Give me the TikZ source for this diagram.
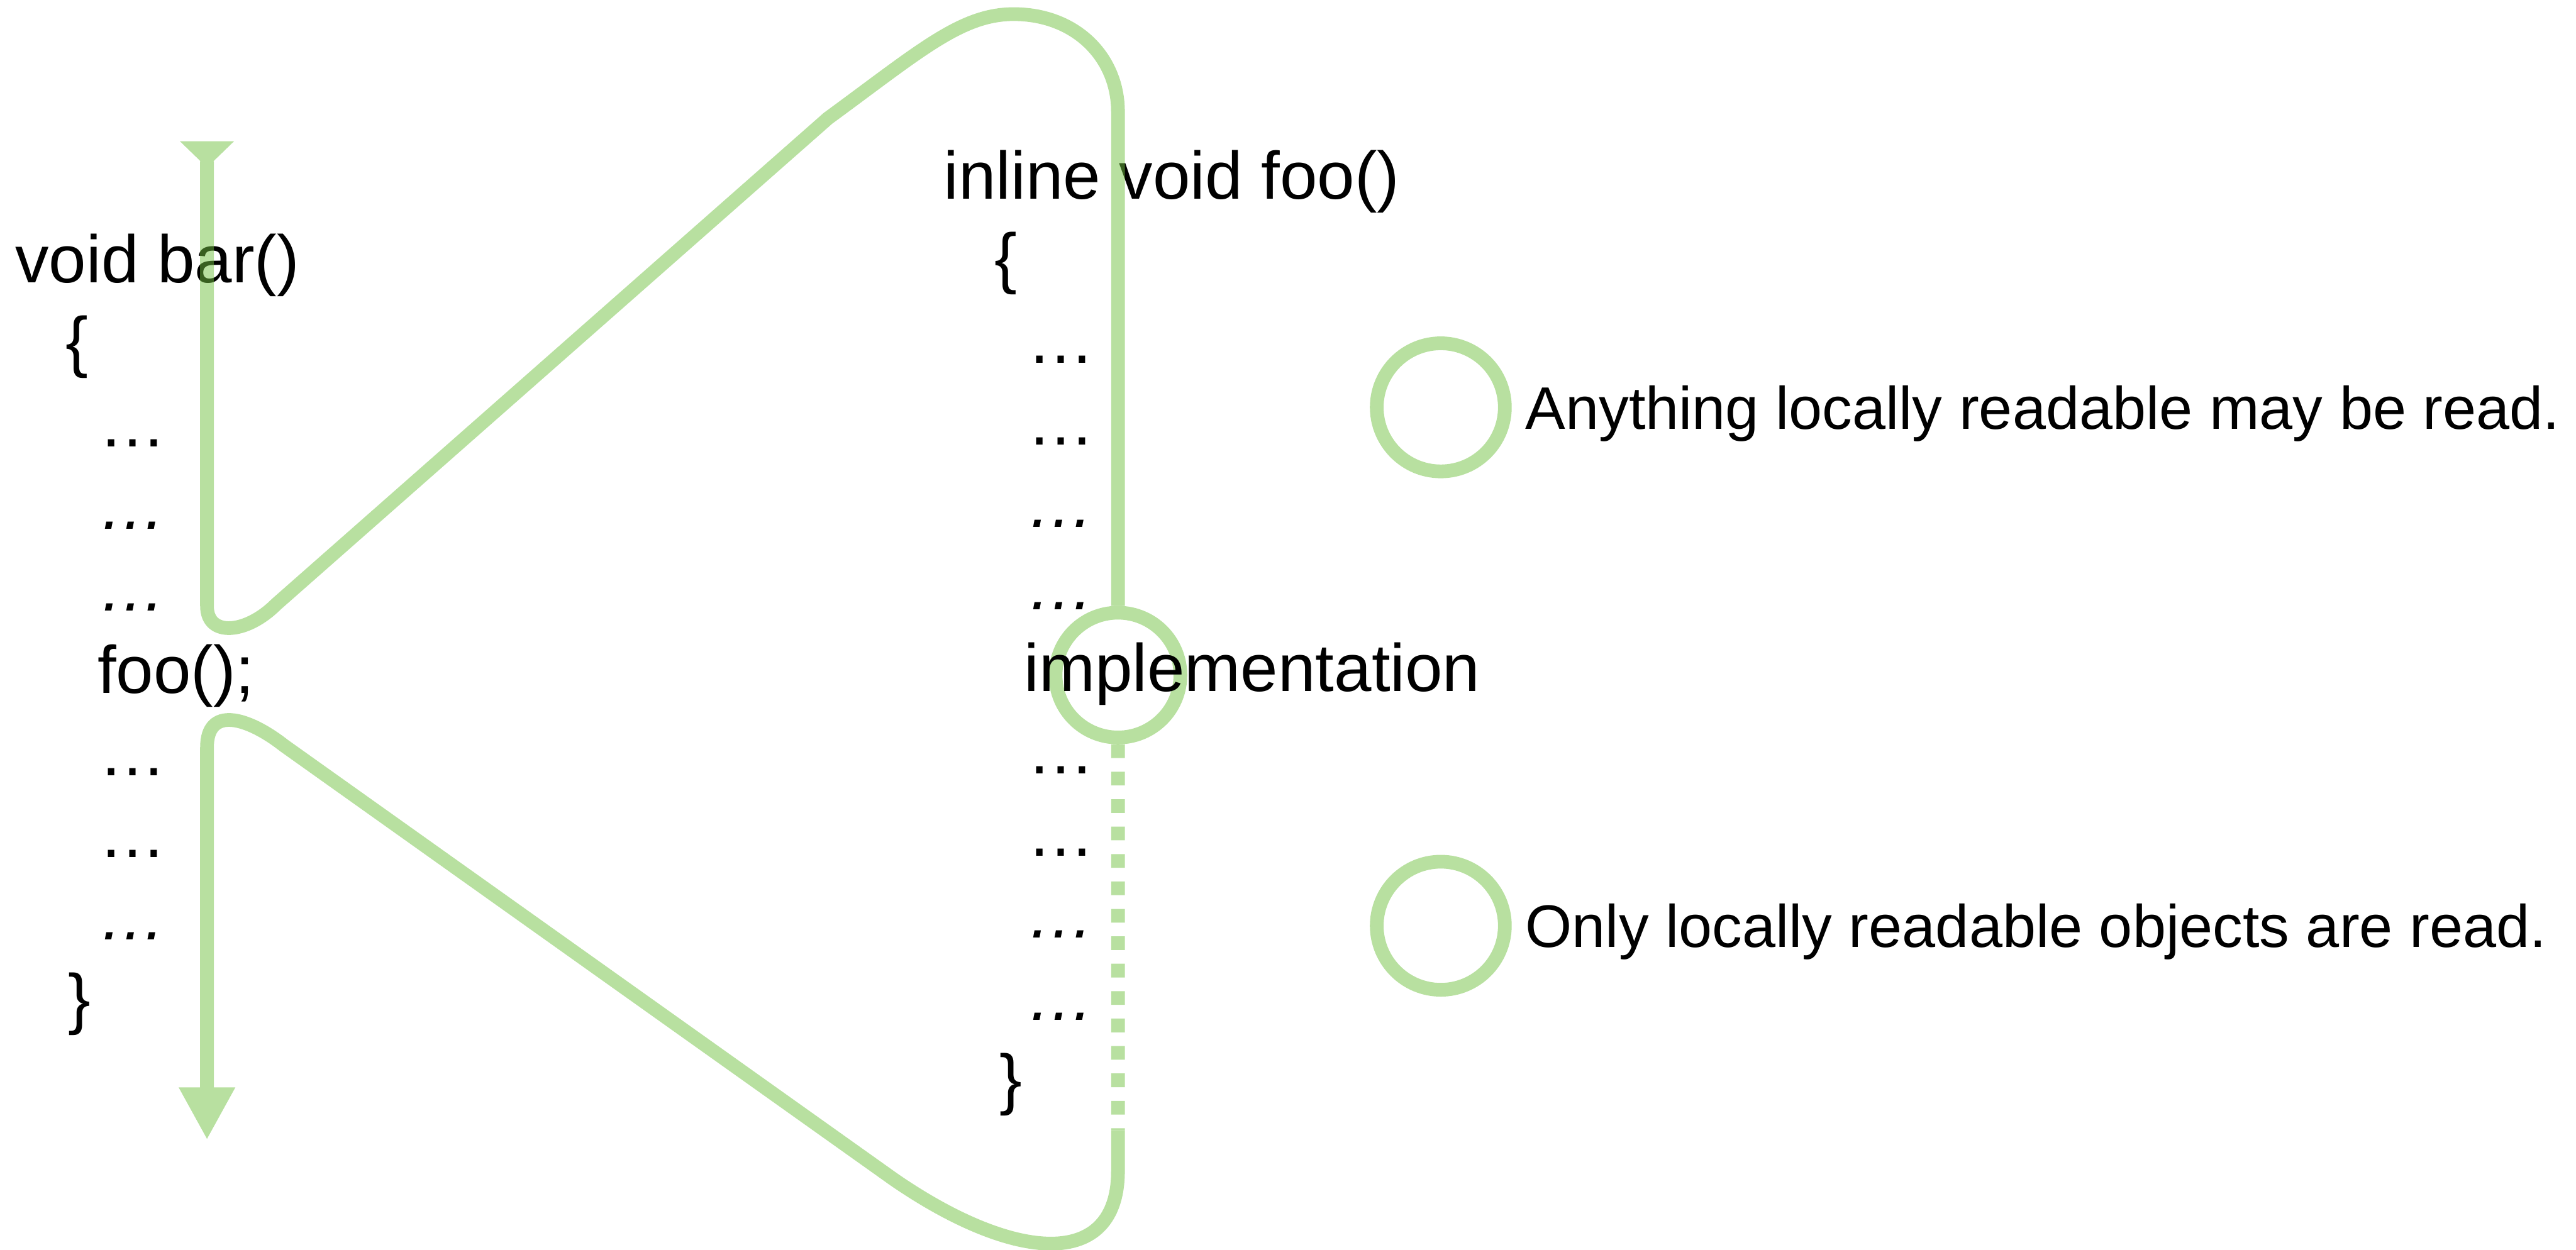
\documentclass[tikz,border=0pt]{standalone}
\usepackage{fontspec}
\setmainfont{Liberation Sans}
\usepackage{xcolor}
\usetikzlibrary{positioning,arrows.meta}
\definecolor{flowgreen}{RGB}{113,193,65}
\definecolor{ringgreen}{RGB}{184,224,160}
\tikzset{
  code line/.style={anchor=base west, inner sep=0pt, font=\fontsize{23.3}{28}\selectfont},
  legend text/.style={inner sep=0pt, text depth=0pt, font=\fontsize{20.8}{25}\selectfont},
  ring/.style={circle, draw=ringgreen, line width=4.75pt, minimum size=1.56cm, inner sep=0pt},
  flow/.style={draw=flowgreen, line width=4.75pt}
}

\begin{document}
\begin{tikzpicture}[x=0.02cm, y=-0.02cm]
    \useasboundingbox (0,0) rectangle (1568,761);

    % Ring on the call site inside foo
    \node [ring, minimum size=1.52cm] (implring) at (680.5,411) {};

    % Nodes for the caller
    \node [code line] (barsig) at (9,172) {void bar()};
    \node [code line] (barlb) at (39.5,222) {\{};
    \node [code line] (bard1) at (60,272) {…};
    \node [code line] (bard2) at (60,322) {\textit{…}};
    \node [code line] (bard3) at (60,372) {\textit{…}};
    \node [code line] (barcall) at (59,422) {foo();};
    \node [code line] (bard4) at (60,472) {…};
    \node [code line] (bard5) at (60,522) {…};
    \node [code line] (bard6) at (60,572) {\textit{…}};
    \node [code line] (barrb) at (41,622) {\}};

    % Nodes for the inlined callee
    \node [code line] (foosig) at (574,121) {inline void foo()};
    \node [code line] (foolb) at (605,171) {\{};
    \node [code line] (food1) at (625,221) {…};
    \node [code line] (food2) at (625,271) {…};
    \node [code line] (food3) at (625,321) {\textit{…}};
    \node [code line] (food4) at (625,371) {\textit{…}};
    \node [code line] (fooimpl) at (623,421) {implementation};
    \node [code line] (food5) at (625,471) {…};
    \node [code line] (food6) at (625,521) {…};
    \node [code line] (food7) at (625,571) {\textit{…}};
    \node [code line] (food8) at (625,621) {\textit{…}};
    \node [code line] (foorb) at (608,671) {\}};

    % Legend
    \node [ring] (lgA) at (877,248) {};
    \node [legend text, right=0.16cm of lgA] (lgAtext) {Anything locally readable may be read.};
    \node [ring] (lgB) at (877,563.6) {};
    \node [legend text, right=0.16cm of lgB] (lgBtext) {Only locally readable objects are read.};

    \coordinate (bartop) at (126,86);
    \coordinate (barend) at (126,694);
    \coordinate (retdash) at (680.5,688);

    % Control flow (see-through over the text)
    \begin{scope}[transparency group, opacity=0.5]
    \draw [flow, {Triangle[reversed, width=0.64cm, length=0.32cm]}-] (bartop) -- (126,369)
        .. controls (126,388) and (150,386) .. (168,368)
        -- (504,72)
        .. controls (560,31) and (585,8.6) .. (617,8.6)
        .. controls (655,8.6) and (680.5,35) .. (680.5,68)
        -- (implring.north);
    \draw [flow, dash pattern=on 0.167cm off 0.167cm] (implring.south) -- (retdash);
    \draw [flow, -{Triangle[width=0.64cm, length=0.64cm]}] (retdash) -- (680.5,713)
        .. controls (680.5,773) and (618,769) .. (544,718)
        -- (173,454)
        .. controls (150,436) and (126,430) .. (126,455)
        -- (barend);
    \end{scope}
\end{tikzpicture}
\end{document}
